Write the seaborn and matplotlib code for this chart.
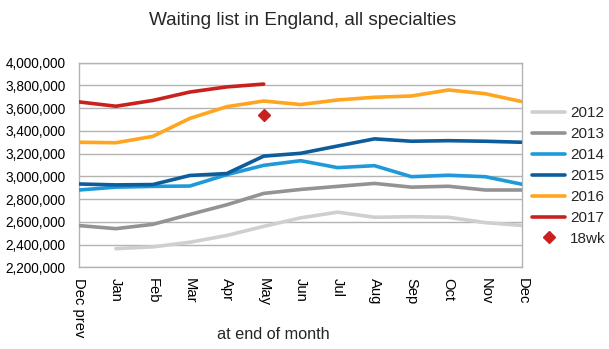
import numpy as np
import pandas as pd
import matplotlib
matplotlib.use("Agg")
import matplotlib.pyplot as plt
from matplotlib.lines import Line2D
from matplotlib.ticker import FuncFormatter
import seaborn as sns

months = ["Dec prev", "Jan", "Feb", "Mar", "Apr", "May", "Jun",
          "Jul", "Aug", "Sep", "Oct", "Nov", "Dec"]
nan = np.nan
y2012 = [nan, 2364000, 2380000, 2420000, 2480000, 2560000, 2635000,
         2685000, 2640000, 2645000, 2640000, 2593000, 2568000]
y2013 = [2567000, 2540000, 2578000, 2665000, 2750000, 2850000, 2885000,
         2912000, 2938000, 2905000, 2913000, 2880000, 2880000]
y2014 = [2880000, 2905000, 2912000, 2915000, 3015000, 3097000, 3138000,
         3077000, 3094000, 2997000, 3010000, 2997000, 2930000]
y2015 = [2933000, 2925000, 2928000, 3008000, 3025000, 3178000, 3203000,
         3267000, 3330000, 3309000, 3314000, 3309000, 3300000]
y2016 = [3300000, 3296000, 3352000, 3510000, 3613000, 3663000, 3632000,
         3672000, 3696000, 3707000, 3760000, 3727000, 3657000]
y2017 = [3655000, 3617000, 3668000, 3742000, 3787000, 3812000, nan,
         nan, nan, nan, nan, nan, nan]
wk18_month = "May"
wk18_value = 3540000

series = {"2012": y2012, "2013": y2013, "2014": y2014,
          "2015": y2015, "2016": y2016, "2017": y2017}
colors = {"2012": "#cfcfcf", "2013": "#939393", "2014": "#1f9ad8",
          "2015": "#0d5d9c", "2016": "#ffa51f", "2017": "#c9211e"}

rows = []
for yr, vals in series.items():
    for i, v in enumerate(vals):
        rows.append({"pos": i, "month": months[i], "year": yr, "value": v})
df = pd.DataFrame(rows).dropna()

sns.set_style("white")
plt.rcParams["font.family"] = ["Liberation Sans", "DejaVu Sans"]

fig = plt.figure(figsize=(6.09, 3.49), dpi=100)
ax = fig.add_axes([79 / 609, 1 - 267.3 / 349, (522.3 - 79) / 609, (267.3 - 62.7) / 349])

sns.lineplot(data=df, x="pos", y="value", hue="year", palette=colors,
             linewidth=2.6, ax=ax, legend=False, zorder=3)
ax.plot([months.index(wk18_month)], [wk18_value], marker="D", color="#c9211e",
        markersize=6.5, linestyle="none", zorder=4)

ax.set_xlim(0, len(months) - 1)
ax.set_ylim(2200000, 4000000)
ax.set_yticks(np.arange(2200000, 4000001, 200000))
ax.yaxis.set_major_formatter(FuncFormatter(lambda v, p: f"{int(v):,}"))
ax.set_xticks(range(len(months)))
ax.set_xticklabels(months, rotation=-90, va="top", ha="center")
ax.set_xlabel("")
ax.set_ylabel("")
ax.grid(axis="y", color="#b3b3b3", linewidth=1)
ax.grid(axis="x", visible=False)
for s in ax.spines.values():
    s.set_color("#b3b3b3")
    s.set_linewidth(1)
ax.tick_params(axis="both", which="major", direction="out", length=4.5,
               width=1, color="#b3b3b3", labelcolor="black")
ax.tick_params(axis="y", pad=5, labelsize=9.8)
ax.tick_params(axis="x", pad=3.5, labelsize=10.6)

fig.text(303 / 609, 1 - 25 / 349, "Waiting list in England, all specialties",
         ha="center", va="baseline", fontsize=13.7)
fig.text(273 / 609, 1 - 339 / 349, "at end of month", ha="center",
         va="baseline", fontsize=11.7)

handles = [Line2D([0], [0], color=colors[yr], linewidth=2.6) for yr in series]
handles.append(Line2D([0], [0], color="#c9211e", marker="D", markersize=6.5,
                      linestyle="none"))
labels = list(series.keys()) + ["18wk"]
fig.legend(handles, labels, loc="upper left",
           bbox_to_anchor=(531.7 / 609, 1 - 106.5 / 349), frameon=False,
           fontsize=11, handlelength=2.2, handletextpad=0.3,
           labelspacing=0.45, borderpad=0, borderaxespad=0)

fig.savefig("out.png", dpi=100)
